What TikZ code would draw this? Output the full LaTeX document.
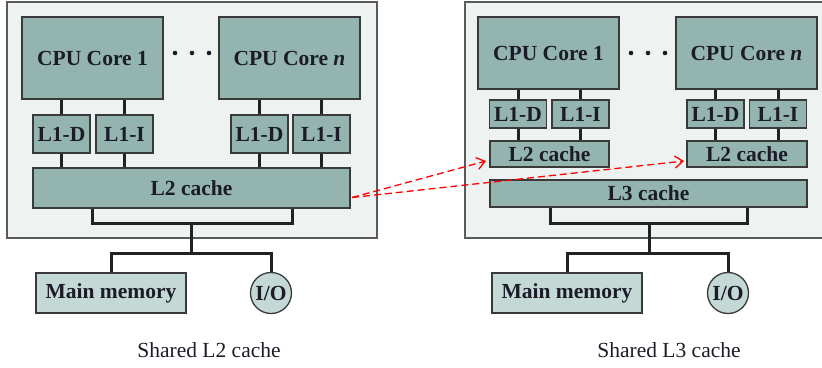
\documentclass[tikz,border=0pt]{standalone}
\usepackage{fontspec}
\setmainfont{Liberation Serif}
\usetikzlibrary{arrows.meta}
\definecolor{boxfill}{HTML}{93B4AF}
\definecolor{memfill}{HTML}{C4D9D5}
\definecolor{chipfill}{HTML}{EEF2F1}
\definecolor{edge}{HTML}{3A3A3A}
\definecolor{chipedge}{HTML}{5A5A5A}
\definecolor{wire}{HTML}{222222}
\definecolor{txt}{HTML}{1C1C28}
\tikzset{
  unit/.style={draw=edge, line width=1.3pt, fill=boxfill, inner sep=0pt,
    text=txt, font=\fontsize{21.5}{24}\selectfont\bfseries},
  core/.style={unit, minimum width=141pt},
  lone/.style={unit, minimum width=57pt},
  mem/.style={unit, fill=memfill, minimum width=150pt, minimum height=40pt},
  io/.style={unit, fill=memfill, circle, minimum size=41pt},
  chip/.style={draw=chipedge, line width=1.5pt, fill=chipfill},
  bus/.style={draw=wire, line width=3pt},
  snoop/.style={draw=red, line width=1.3pt, dash pattern=on 7pt off 4pt,
    -{Straight Barb[length=8pt,width=12pt,line width=1.3pt]}},
  caption/.style={text=txt, font=\fontsize{21.5}{24}\selectfont},
  dot/.style={circle, fill=txt, inner sep=0pt, minimum size=4.6pt}
}
\begin{document}
\begin{tikzpicture}[x=1pt, y=-1pt]
\clip (0,0) rectangle (822,367);
\fill[white] (0,0) rectangle (822,367);

% ---------- shared L2 cache ----------
\draw[chip] (7,2) rectangle (377,238);
\node[core, minimum height=82pt] (ca1) at (92.5,58) {CPU Core 1};
\node[core, minimum height=82pt] (can) at (289.5,58) {CPU Core \textit{n}};
\node[dot] (da1) at (175,53) {};
\node[dot] (da2) at (192,53) {};
\node[dot] (da3) at (209,53) {};
\node[lone, minimum height=38pt] (da1d) at (61.5,134) {L1-D};
\node[lone, minimum height=38pt] (da1i) at (124.5,134) {L1-I};
\node[lone, minimum height=38pt] (dand) at (259.5,134) {L1-D};
\node[lone, minimum height=38pt] (dani) at (321.5,134) {L1-I};
\node[unit, minimum width=317pt, minimum height=40pt] (l2a) at (191.5,188) {L2 cache};
\foreach \n/\c in {da1d/ca1, da1i/ca1, dand/can, dani/can}{
  \draw[bus] (\n.north) -- (\n.north |- \c.south);
  \draw[bus] (\n.south) -- (\n.south |- l2a.north);
}
\node[mem] (mema) at (111,293) {Main memory};
\node[io] (ioa) at (271,293) {I/O};
\coordinate (busa) at (191.5,223);
\coordinate (huba) at (191.5,253);
\draw[bus] ([xshift=-99.5pt]l2a.south) |- (busa) -| ([xshift=100.5pt]l2a.south);
\draw[bus] (busa) -- (huba);
\draw[bus] (mema.north) |- (huba) -| (ioa.north);
\node[caption] (capa) at (209,350) {Shared L2 cache};

% ---------- shared L3 cache ----------
\draw[chip] (465,2) rectangle (840,238);
\node[core, minimum height=72pt] (cb1) at (548.5,53) {CPU Core 1};
\node[core, minimum height=72pt] (cbn) at (746.5,53) {CPU Core \textit{n}};
\node[dot] (db1) at (631,53) {};
\node[dot] (db2) at (648,53) {};
\node[dot] (db3) at (665,53) {};
\node[lone, minimum height=28pt] (db1d) at (518,114) {L1-D};
\node[lone, minimum height=28pt] (db1i) at (580.5,114) {L1-I};
\node[lone, minimum height=28pt] (dbnd) at (715.5,114) {L1-D};
\node[lone, minimum height=28pt] (dbni) at (778,114) {L1-I};
\node[unit, minimum width=119pt, minimum height=26pt] (l2b1) at (549.5,154) {L2 cache};
\node[unit, minimum width=120pt, minimum height=26pt] (l2bn) at (747,154) {L2 cache};
\node[unit, minimum width=317pt, minimum height=27pt] (l3b) at (648.5,193.5) {L3 cache};
\foreach \n/\c/\l in {db1d/cb1/l2b1, db1i/cb1/l2b1, dbnd/cbn/l2bn, dbni/cbn/l2bn}{
  \draw[bus] (\n.north) -- (\n.north |- \c.south);
  \draw[bus] (\n.south) -- (\n.south |- \l.north);
}
\node[mem] (memb) at (567,293) {Main memory};
\node[io] (iob) at (728,293) {I/O};
\coordinate (busb) at (649,223);
\coordinate (hubb) at (649,253);
\draw[bus] ([xshift=-98.5pt]l3b.south) |- (busb) -| ([xshift=98.5pt]l3b.south);
\draw[bus] (busb) -- (hubb);
\draw[bus] (memb.north) |- (hubb) -| (iob.north);
\node[caption] (capb) at (669,350) {Shared L3 cache};

% ---------- private L2 caches derived from the shared one ----------
\coordinate (src) at (352,197.5);
\coordinate (tip1) at (486,161);
\coordinate (tipn) at (684,161);
\draw[snoop] (src) -- (tip1);
\draw[snoop] (src) -- (tipn);
\end{tikzpicture}
\end{document}
